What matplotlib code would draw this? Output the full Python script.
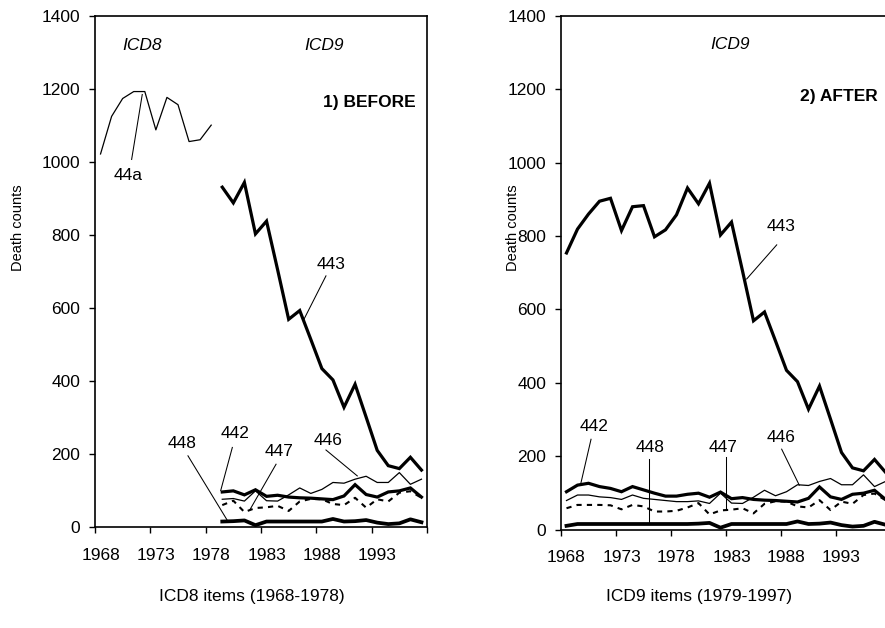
import matplotlib
matplotlib.use("Agg")
import matplotlib.pyplot as plt

plt.rcParams['font.family'] = ['Liberation Sans', 'DejaVu Sans']

# ---------------- data ----------------
years = list(range(1968, 1998))
years_icd8 = list(range(1968, 1979))

c44a = [1022, 1125, 1174, 1193, 1193, 1088, 1177, 1157, 1056, 1061, 1101]

c443 = [754, 819, 860, 895, 903, 815, 880, 883, 798, 817,
        858, 931, 888, 944, 803, 838, 705, 569, 593, 514,
        434, 403, 328, 391, 301, 210, 168, 160, 191, 156]
c442 = [103, 121, 126, 117, 112, 103, 117, 108, 99, 91,
        91, 96, 99, 88, 102, 84, 87, 82, 80, 79,
        77, 75, 85, 116, 89, 82, 96, 99, 107, 82]
c446 = [79, 94, 94, 89, 87, 82, 94, 85, 82, 79,
        76, 76, 78, 71, 99, 72, 71, 88, 107, 92,
        103, 122, 120, 131, 139, 122, 122, 149, 117, 131]
c447 = [58, 67, 67, 67, 66, 55, 67, 63, 49, 49,
        51, 60, 72, 41, 52, 54, 58, 44, 70, 77,
        76, 63, 60, 80, 53, 76, 70, 94, 98, 80]
c448 = [10, 15, 15, 15, 15, 15, 15, 15, 15, 15,
        15, 15, 16, 18, 5, 15, 15, 15, 15, 15,
        15, 22, 15, 16, 19, 12, 8, 10, 21, 13]

tick_labels = ['1968', '1973', '1978', '1983', '1988', '1993']
yticks = [0, 200, 400, 600, 800, 1000, 1200, 1400]
icd9_start = 1979

# ---------------- figure ----------------
W, H = 885, 628
fig = plt.figure(figsize=(W / 100, H / 100), dpi=100)

def ax_rect(x0, y0, x1, y1):
    return [x0 / W, 1 - y1 / H, (x1 - x0) / W, (y1 - y0) / H]

axL = fig.add_axes(ax_rect(95, 16, 427, 527))
axR = fig.add_axes(ax_rect(561, 16, 891, 529.5))

FS = 12.5

def style_axis(ax):
    ax.set_xlim(1967.5, 1997.5)
    ax.set_ylim(0, 1400)
    ax.set_yticks(yticks)
    ax.set_yticklabels([str(v) for v in yticks], fontsize=FS)
    ax.set_xticks([1967.5 + 5 * k for k in range(7)])
    ax.set_xticklabels([])
    ax.set_xticks([int(t) for t in tick_labels], minor=True)
    ax.set_xticklabels(tick_labels, minor=True, fontsize=FS)
    ax.tick_params(axis='x', which='major', direction='out', length=4.5, width=1)
    ax.tick_params(axis='x', which='minor', length=0, pad=15)
    ax.tick_params(axis='y', direction='out', length=4.5, width=1, pad=6)
    for s in ax.spines.values():
        s.set_linewidth(1.2)
        s.set_color('black')

style_axis(axL)
style_axis(axR)

thick = dict(color='black', lw=2.3, solid_joinstyle='miter')
thin = dict(color='black', lw=0.9)
dash = dict(color='black', lw=1.5, linestyle=(0, (2.5, 2.5)))
bottom = dict(color='black', lw=2.7)

# Left panel
i0 = years.index(icd9_start)
yr9 = years[i0:]
axL.plot(years_icd8, c44a, **thin)
axL.plot(yr9, c448[i0:], **bottom)
axL.plot(yr9, c447[i0:], **dash)
axL.plot(yr9, c446[i0:], **thin)
axL.plot(yr9, c442[i0:], **thick)
axL.plot(yr9, c443[i0:], **thick)

# Right panel
axR.plot(years, c448, **bottom)
axR.plot(years, c447, **dash)
axR.plot(years, c446, **thin)
axR.plot(years, c442, **thick)
axR.plot(years, c443, **thick)

def label(ax, text, xy_text, xy_from=None, xy_to=None):
    ax.text(xy_text[0], xy_text[1], text, ha='center', va='center', fontsize=FS)
    if xy_from is not None:
        ax.plot([xy_from[0], xy_to[0]], [xy_from[1], xy_to[1]], color='black', lw=0.75)

# Left annotations
axL.text(1971.72, 1320, 'ICD8', ha='center', va='center', fontsize=FS, style='italic')
axL.text(1988.19, 1320, 'ICD9', ha='center', va='center', fontsize=FS, style='italic')
axL.text(1992.32, 1164, '1) BEFORE', ha='center', va='center', fontsize=FS, weight='bold')
label(axL, '44a', (1970.48, 962), (1970.81, 1007), (1971.77, 1185))
label(axL, '443', (1988.82, 718), (1988.37, 688), (1986.38, 569))
label(axL, '442', (1980.15, 257), (1979.91, 218), (1978.86, 100))
label(axL, '447', (1984.17, 206), (1983.86, 172), (1981.51, 48))
label(axL, '446', (1988.55, 238), (1988.37, 211), (1991.2, 140))
label(axL, '448', (1975.36, 230), (1975.9, 195), (1979.5, 16))

# Right annotations
axR.text(1982.86, 1321, 'ICD9', ha='center', va='center', fontsize=FS, style='italic')
axR.text(1992.75, 1180, '2) AFTER', ha='center', va='center', fontsize=FS, weight='bold')
label(axR, '443', (1987.53, 825), (1987.11, 776), (1984.38, 683))
label(axR, '442', (1970.5, 280), (1970.23, 246), (1969.29, 124))
label(axR, '448', (1975.59, 224), (1975.53, 192), (1975.53, 17))
label(axR, '447', (1982.23, 224), (1982.47, 197), (1982.47, 53))
label(axR, '446', (1987.53, 251), (1987.56, 219), (1989.16, 121))

# Axis titles
fig.text(252 / W, 1 - 596 / H, 'ICD8 items (1968-1978)', ha='center', va='center', fontsize=FS)
fig.text(699 / W, 1 - 596 / H, 'ICD9 items (1979-1997)', ha='center', va='center', fontsize=FS)
fig.text(18 / W, 1 - 228 / H, 'Death counts', ha='center', va='center', rotation=90, fontsize=10.5)
fig.text(513 / W, 1 - 228 / H, 'Death counts', ha='center', va='center', rotation=90, fontsize=10.5)

fig.savefig('out.png', dpi=100)
